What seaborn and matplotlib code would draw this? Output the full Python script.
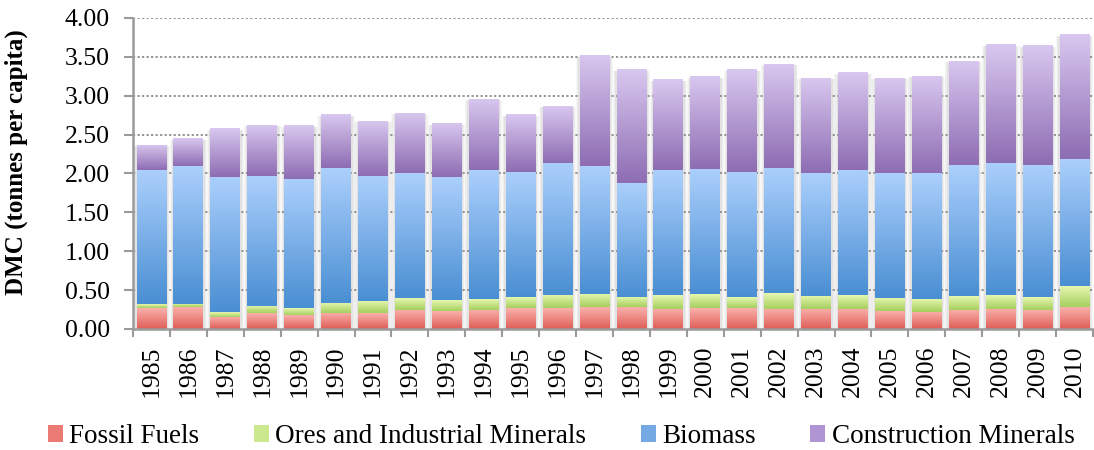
import numpy as np
import pandas as pd
import matplotlib
matplotlib.use("Agg")
import matplotlib.pyplot as plt
import seaborn as sns
from matplotlib.colors import LinearSegmentedColormap
from matplotlib.patches import Rectangle

years = [str(y) for y in range(1985, 2011)]
fossil = [0.27, 0.28, 0.16, 0.20, 0.18, 0.21, 0.20, 0.25, 0.23, 0.25, 0.27, 0.27, 0.28,
          0.28, 0.26, 0.27, 0.27, 0.26, 0.26, 0.26, 0.23, 0.22, 0.25, 0.26, 0.25, 0.28]
ores = [0.05, 0.04, 0.06, 0.10, 0.09, 0.13, 0.16, 0.15, 0.14, 0.14, 0.14, 0.17, 0.17,
        0.13, 0.18, 0.18, 0.14, 0.20, 0.17, 0.18, 0.17, 0.17, 0.18, 0.18, 0.16, 0.27]
biomass = [1.72, 1.77, 1.74, 1.67, 1.66, 1.73, 1.61, 1.60, 1.58, 1.65, 1.61, 1.70, 1.64,
           1.47, 1.60, 1.61, 1.61, 1.61, 1.57, 1.61, 1.60, 1.61, 1.68, 1.70, 1.70, 1.64]
construction = [0.33, 0.36, 0.62, 0.66, 0.69, 0.69, 0.71, 0.78, 0.70, 0.92, 0.74, 0.73, 1.43,
                1.46, 1.17, 1.19, 1.32, 1.34, 1.23, 1.25, 1.23, 1.26, 1.34, 1.52, 1.54, 1.60]
series_names = ["Fossil Fuels", "Ores and Industrial Minerals", "Biomass", "Construction Minerals"]
yticks = [0.0, 0.5, 1.0, 1.5, 2.0, 2.5, 3.0, 3.5, 4.0]

# gradient colours (top, bottom) per series
grad = {
    "Fossil Fuels": ("#fbb0ab", "#de5e57"),
    "Ores and Industrial Minerals": ("#e6f7b0", "#a6cf5e"),
    "Biomass": ("#abcffc", "#4a8fd3"),
    "Construction Minerals": ("#d8c7ef", "#8e6db3"),
}
legend_col = {
    "Fossil Fuels": "#ec7a74",
    "Ores and Industrial Minerals": "#cbe88e",
    "Biomass": "#74a9e4",
    "Construction Minerals": "#b095d4",
}

df = pd.DataFrame({"year": years, "Fossil Fuels": fossil,
                   "Ores and Industrial Minerals": ores, "Biomass": biomass,
                   "Construction Minerals": construction})
cols = series_names
cum = df[cols].cumsum(axis=1)

plt.rcParams["font.family"] = ["Liberation Serif", "DejaVu Serif"]
fig = plt.figure(figsize=(10.94, 4.5), dpi=100)
ax = fig.add_axes([0.1216, 0.269, 0.8775, 0.691])

width = 0.81
layer_patches = {}
for i in range(len(cols) - 1, -1, -1):
    name = cols[i]
    n_before = len(ax.patches)
    sns.barplot(x=df["year"], y=cum[name], color=legend_col[name], width=width,
                ax=ax, zorder=3, linewidth=0, saturation=1)
    layer_patches[name] = ax.patches[n_before:]

# turn overlaid cumulative bars into stacked segments
for i, name in enumerate(cols):
    lower = cum[cols[i - 1]].values if i > 0 else np.zeros(len(df))
    for j, p in enumerate(layer_patches[name]):
        top = p.get_height()
        p.set_y(lower[j])
        p.set_height(top - lower[j])

ax.set_xlim(-0.5, len(years) - 0.5)
ax.set_ylim(0, 4.0)

for name in cols:
    cmap = LinearSegmentedColormap.from_list(name, [grad[name][1], grad[name][0]])
    g = np.linspace(0, 1, 64).reshape(-1, 1)
    for p in layer_patches[name]:
        x0, y0, w, h = p.get_x(), p.get_y(), p.get_width(), p.get_height()
        im = ax.imshow(g, cmap=cmap, origin="lower", aspect="auto",
                       extent=(x0, x0 + w, y0, y0 + h), zorder=3.5, interpolation="bilinear")
        im.set_clip_path(p)
for j, p in enumerate(layer_patches[cols[-1]]):
    x0, w = p.get_x(), p.get_width()
    top = cum[cols[-1]].values[j]
    for dx, a in [(0.10, 0.08), (0.07, 0.10), (0.04, 0.13)]:
        ax.add_patch(Rectangle((x0 - dx, 0), w + 2 * dx, top - 0.02, facecolor="#9a9a9a",
                               alpha=a, linewidth=0, zorder=2.5))
ax.set_xlim(-0.5, len(years) - 0.5)
ax.set_ylim(0, 4.0)

ax.set_yticks(yticks)
ax.set_yticklabels([f"{v:.2f}" for v in yticks], fontsize=18.5)
for v in yticks[1:]:
    ax.axhline(v, color="#8a8a8a", linewidth=1.3, linestyle=(0, (1.2, 1.3)), zorder=1)

ax.set_xticks(range(len(years)))
ax.set_xticklabels(years, rotation=90, fontsize=18.5)
ax.set_xticks(np.arange(-0.5, len(years), 1.0), minor=True)
ax.tick_params(axis="x", which="major", length=0, pad=12)
ax.tick_params(axis="x", which="minor", length=6, width=1.5, color="#9a9a9a")
ax.tick_params(axis="y", length=6.5, width=1.5, color="#9a9a9a", pad=10)

for s in ["top", "right"]:
    ax.spines[s].set_visible(False)
for s in ["left", "bottom"]:
    ax.spines[s].set_color("#9a9a9a")
    ax.spines[s].set_linewidth(1.8)
    ax.spines[s].set_zorder(5)

ax.set_xlabel("")
ax.set_ylabel("DMC (tonnes per capita)", fontsize=18, fontweight="bold")
ax.yaxis.set_label_coords(-0.109, 0.535)
ax.set_facecolor("white")

handles = [Rectangle((0, 0), 1, 1, facecolor=legend_col[n], edgecolor="none") for n in cols]
fig.legend(handles, cols, loc="center", bbox_to_anchor=(0.513, 0.03), ncol=4, frameon=False,
           fontsize=19.5, handlelength=0.55, handleheight=0.55, handletextpad=0.25,
           columnspacing=2.0, borderaxespad=0)

fig.savefig("out.png", dpi=100, facecolor="white")
